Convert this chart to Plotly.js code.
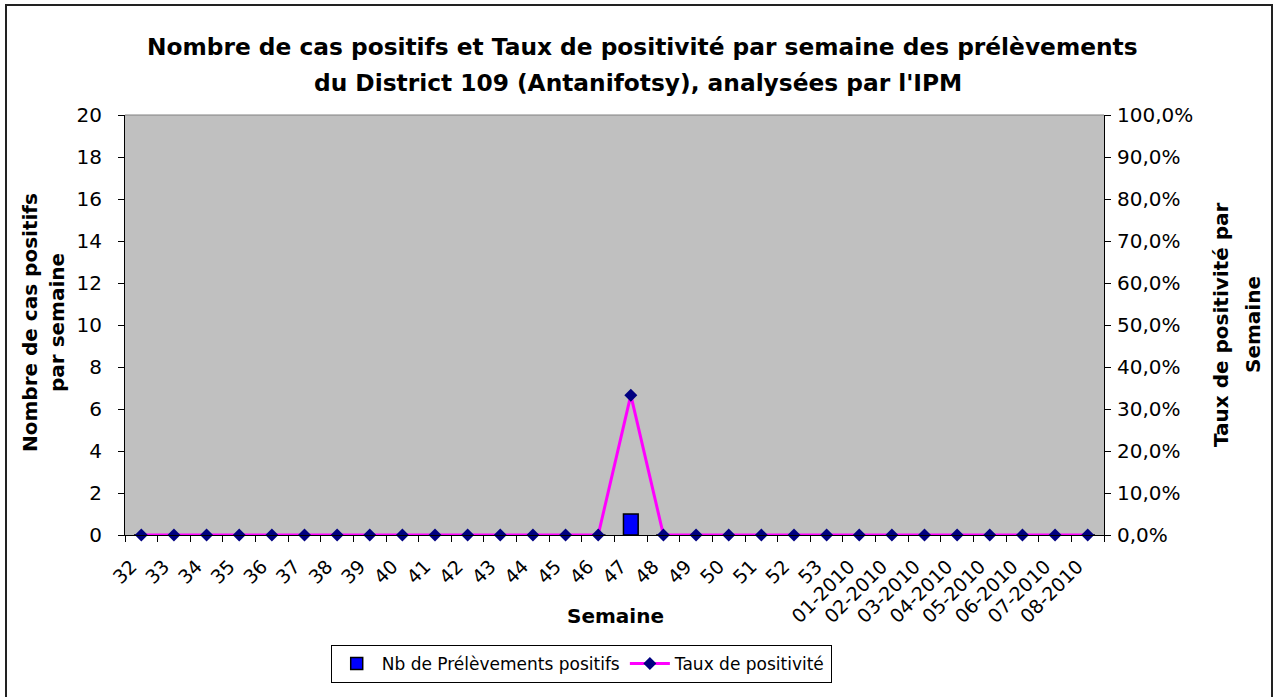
<!DOCTYPE html>
<html>
<head>
<meta charset="utf-8">
<script src="https://cdn.plot.ly/plotly-3.0.1.min.js"></script>
<style>
html,body{margin:0;padding:0;background:#fff;}
#wrap{position:relative;width:1275px;height:697px;overflow:hidden;}
#chart{position:absolute;left:0;top:0;width:1275px;height:697px;}
#frame{position:absolute;left:5px;top:4px;width:1268px;height:720px;border:2px solid #222;pointer-events:none;box-sizing:border-box;}
</style>
</head>
<body>
<div id="wrap"><div id="chart"></div><div id="frame"></div></div>
<script>
const weeks = ["32","33","34","35","36","37","38","39","40","41","42","43","44","45","46","47","48","49","50","51","52","53","01-2010","02-2010","03-2010","04-2010","05-2010","06-2010","07-2010","08-2010"];
const positiveCounts = [0,0,0,0,0,0,0,0,0,0,0,0,0,0,0,1,0,0,0,0,0,0,0,0,0,0,0,0,0,0];
const positivityRate = [0,0,0,0,0,0,0,0,0,0,0,0,0,0,0,0.333,0,0,0,0,0,0,0,0,0,0,0,0,0,0];
const leftTicks = [0,2,4,6,8,10,12,14,16,18,20];
const rightTicks = [0,0.1,0.2,0.3,0.4,0.5,0.6,0.7,0.8,0.9,1.0];

const FONT = "DejaVu Sans, Arial, sans-serif";
const PW = 979, PH = 420; // plot area size in px (for placing text)
const px = v => (v - 125) / PW;
const py = v => (535 - v) / PH;

const traces = [
  {
    type: "bar", x: weeks, y: positiveCounts, name: "Nb de Prélèvements positifs",
    width: 0.45,
    marker: {color: "#0000FF", line: {color: "#000000", width: 1.5}},
    yaxis: "y", hoverinfo: "x+y"
  },
  {
    type: "scatter", mode: "lines+markers", x: weeks, y: positivityRate, name: "Taux de positivité",
    line: {color: "#FF00FF", width: 3},
    marker: {symbol: "diamond", color: "#000080", size: 10},
    yaxis: "y2", cliponaxis: false
  }
];

function txt(text, x, y, size, angle) {
  return {text: text, xref: "paper", yref: "paper", x: px(x), y: py(y),
          xanchor: "center", yanchor: "middle", showarrow: false, textangle: angle || 0,
          font: {family: FONT, size: size, color: "#000"}};
}

const layout = {
  width: 1275, height: 697,
  margin: {l: 125, r: 171, t: 115, b: 162},
  paper_bgcolor: "#FFFFFF",
  plot_bgcolor: "#C0C0C0",
  separators: ", ",
  font: {family: FONT, size: 20, color: "#000"},
  showlegend: true,
  legend: {
    orientation: "h", x: 0.466, xanchor: "center", y: -0.262, yanchor: "top",
    bordercolor: "#000", borderwidth: 1, bgcolor: "#fff",
    font: {family: FONT, size: 17, color: "#000"},
    itemwidth: 40, tracegroupgap: 0
  },
  xaxis: {
    type: "category", range: [-0.5, 29.5], tickangle: -45, tickson: "boundaries",
    ticks: "outside", ticklen: 6, tickcolor: "#000",
    showline: true, linecolor: "#000", linewidth: 1,
    showgrid: false, zeroline: false,
    tickfont: {family: FONT, size: 19},
    ticklabelstandoff: 12, ticklabelshift: -10
  },
  yaxis: {
    range: [0, 20], tickvals: leftTicks,
    ticks: "outside", ticklen: 6, tickcolor: "#000",
    showline: true, linecolor: "#000", linewidth: 1,
    showgrid: false, zeroline: false,
    tickfont: {family: FONT, size: 20},
    ticklabelstandoff: 12
  },
  yaxis2: {
    range: [0, 1], tickvals: rightTicks, tickformat: ".1%",
    overlaying: "y", side: "right",
    ticks: "outside", ticklen: 6, tickcolor: "#000",
    showline: true, linecolor: "#000", linewidth: 1,
    showgrid: false, zeroline: false,
    tickfont: {family: FONT, size: 20},
    ticklabelstandoff: 2
  },
  shapes: [
    {type: "line", xref: "paper", yref: "paper", x0: 0, x1: 1, y0: 1, y1: 1, line: {color: "#808080", width: 1}}
  ],
  annotations: [
    txt("<b>Nombre de cas positifs et Taux de positivité par semaine des prélèvements</b>", 642, 47, 23.3),
    txt("<b>du District 109 (Antanifotsy), analysées par l'IPM</b>", 638, 82, 23.3),
    txt("<b>Semaine</b>", 615, 616, 20),
    txt("<b>Nombre de cas positifs</b>", 30, 323, 20, -90),
    txt("<b>par semaine</b>", 57, 323, 20, -90),
    txt("<b>Taux de positivité par</b>", 1221, 325, 20, -90),
    txt("<b>Semaine</b>", 1253, 325, 20, -90)
  ]
};

Plotly.newPlot("chart", traces, layout, {displayModeBar: false, staticPlot: true});
</script>
</body>
</html>
